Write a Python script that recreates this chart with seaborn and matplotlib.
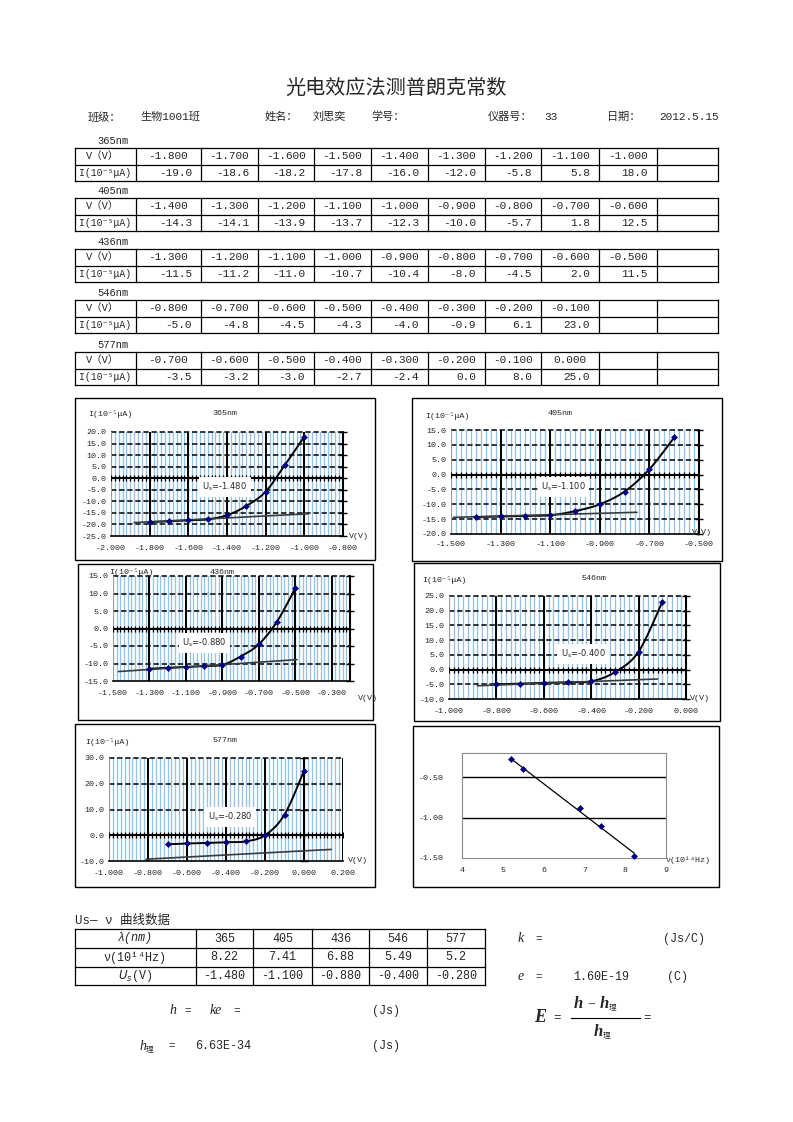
import numpy as np
import matplotlib
matplotlib.use('Agg')
import matplotlib.pyplot as plt
import seaborn as sns
from matplotlib.patches import Rectangle

sns.set_theme(style='white')
FONT = ['Liberation Mono', 'Noto Sans CJK SC', 'DejaVu Sans']
plt.rcParams['font.family'] = FONT
plt.rcParams['mathtext.fontset'] = 'dejavusans'

# ---------------- data ----------------
V365 = [-1.8, -1.7, -1.6, -1.5, -1.4, -1.3, -1.2, -1.1, -1.0]
I365 = [-19.0, -18.6, -18.2, -17.8, -16.0, -12.0, -5.8, 5.8, 18.0]
V405 = [-1.4, -1.3, -1.2, -1.1, -1.0, -0.9, -0.8, -0.7, -0.6]
I405 = [-14.3, -14.1, -13.9, -13.7, -12.3, -10.0, -5.7, 1.8, 12.5]
V436 = [-1.3, -1.2, -1.1, -1.0, -0.9, -0.8, -0.7, -0.6, -0.5]
I436 = [-11.5, -11.2, -11.0, -10.7, -10.4, -8.0, -4.5, 2.0, 11.5]
V546 = [-0.8, -0.7, -0.6, -0.5, -0.4, -0.3, -0.2, -0.1]
I546 = [-5.0, -4.8, -4.5, -4.3, -4.0, -0.9, 6.1, 23.0]
V577 = [-0.7, -0.6, -0.5, -0.4, -0.3, -0.2, -0.1, 0.0]
I577 = [-3.5, -3.2, -3.0, -2.7, -2.4, 0.0, 8.0, 25.0]

# tangent (baseline) lines
TAN365_V, TAN365_I = [-1.88, -0.98], [-19.2, -15.4]
TAN405_V, TAN405_I = [-1.49, -0.75], [-14.4, -12.7]
TAN436_V, TAN436_I = [-1.47, -0.49], [-12.3, -8.9]
TAN546_V, TAN546_I = [-0.88, -0.12], [-5.5, -3.2]
TAN577_V, TAN577_I = [-0.81, 0.14], [-9.3, -5.5]

WAVELENGTHS = [365, 405, 436, 546, 577]
NU = [8.22, 7.41, 6.88, 5.49, 5.2]
US = [-1.480, -1.100, -0.880, -0.400, -0.280]

# ---------------- figure ----------------
W, H = 793, 1122
fig = plt.figure(figsize=(W / 100, H / 100), dpi=100)
fig.patch.set_facecolor('white')
bg = fig.add_axes([0, 0, 1, 1])
bg.set_xlim(0, W)
bg.set_ylim(H, 0)
bg.axis('off')

NAVY = '#000080'
BLUE = '#96c2e8'


def T(x, y, s, size=8, ha='left', va='center', **kw):
    fig.text(x / W, 1 - y / H, s, fontsize=size, ha=ha, va=va, **kw)


def L(x0, y0, x1, y1, lw=0.9, color='black'):
    bg.plot([x0, x1], [y0, y1], color=color, lw=lw, solid_capstyle='projecting')


def px_axes(l, t, r, b):
    return fig.add_axes([l / W, 1 - b / H, (r - l) / W, (b - t) / H])


def box(l, t, r, b):
    bg.add_patch(Rectangle((l, t), r - l, b - t, fill=False, ec='black', lw=1.0))


def smooth(x, y, xlim, ylim, wpx, hpx, n=24):
    x = np.asarray(x, float)
    y = np.asarray(y, float)
    P = np.column_stack([(x - xlim[0]) / (xlim[1] - xlim[0]) * wpx,
                         (y - ylim[0]) / (ylim[1] - ylim[0]) * hpx])
    Pe = np.vstack([P[0], P, P[-1]])
    t = np.linspace(0, 1, n)[:, None]
    segs = []
    for k in range(len(P) - 1):
        p0, p1, p2, p3 = Pe[k], Pe[k + 1], Pe[k + 2], Pe[k + 3]
        c1 = p1 + (p2 - p0) / 6
        c2 = p2 - (p3 - p1) / 6
        B = (1 - t) ** 3 * p1 + 3 * (1 - t) ** 2 * t * c1 + 3 * (1 - t) * t ** 2 * c2 + t ** 3 * p2
        segs.append(B if k == 0 else B[1:])
    B = np.vstack(segs)
    return (B[:, 0] / wpx * (xlim[1] - xlim[0]) + xlim[0],
            B[:, 1] / hpx * (ylim[1] - ylim[0]) + ylim[0])


# ---------------- title & header ----------------
T(396, 88, '光电效应法测普朗克常数', size=14.5, ha='center')
hy = 117
for x, s in [(88, '班级：'), (140, '生物1001班'), (265, '姓名：'), (313, '刘思奕'),
             (371, '学号：'), (488, '仪器号：'), (544, '33'), (607, '日期：'), (659, '2012.5.15')]:
    T(x, hy, s, size=8)

# ---------------- data tables ----------------
EDGES = [75, 136, 201, 258, 314, 371, 428, 485, 541, 599, 657, 718]
tables = [('365nm', V365, I365, 148), ('405nm', V405, I405, 198),
          ('436nm', V436, I436, 249), ('546nm', V546, I546, 300),
          ('577nm', V577, I577, 352)]
RH = 16.5
for name, v, cur, top in tables:
    T(97, top - 7, name, size=7.5)
    for y in (top, top + RH, top + 2 * RH):
        L(EDGES[0], y, EDGES[-1], y)
    for x in EDGES:
        L(x, top, x, top + 2 * RH)
    T(103, top + RH / 2, 'V（V）', size=7.5, ha='center')
    T(105, top + RH * 1.5, 'I(10⁻⁵μA)', size=7, ha='center')
    for k, (vv, ii) in enumerate(zip(v, cur)):
        cl, cr = EDGES[k + 1], EDGES[k + 2]
        T((cl + cr) / 2, top + RH / 2, f'{vv:.3f}', size=8, ha='center')
        T(cr - 9, top + RH * 1.5, f'{ii:.1f}', size=8, ha='right')


# ---------------- I-V charts ----------------
def fmt3(t):
    s = f'{t:.3f}'
    return '0.000' if s == '-0.000' else s


def iv_chart(c):
    l, t, r, b = c['plot']
    ax = px_axes(l, t, r, b)
    ax.set_facecolor('white')
    x0, x1 = c['xlim']
    y0, y1 = c['ylim']
    minor = np.round(np.arange(x0, x1 + 1e-9, 0.02), 3)
    major = np.round(np.arange(x0, c['xlab_max'] + 1e-9, 0.2), 3)
    yt = np.arange(y0, y1 + 1e-9, c['ystep'])
    axis_x = 0.0 if x0 <= 0 <= x1 else x1
    for m in minor:
        ax.axvline(m, color=BLUE, lw=0.95, zorder=1)
    for m in major[1:]:
        if abs(m - axis_x) > 1e-6:
            ax.axvline(m, color='black', lw=1.4, zorder=2)
    for yy in yt[1:]:
        if abs(yy) > 1e-9:
            ax.axhline(yy, color='black', lw=1.1, ls=(0, (3.5, 1.8)), zorder=2, clip_on=False)
    ax.axhline(0, color='black', lw=1.5, zorder=3)
    ax.plot(minor, np.zeros_like(minor), ls='none', marker='|', ms=4.5, mew=0.9,
            color='black', zorder=3)
    ax.axvline(axis_x, color='black', lw=1.5, zorder=3, clip_on=False)
    ax.plot(np.full(len(yt), axis_x), yt, ls='none', marker='_', ms=6, mew=1.0,
            color='black', zorder=3, clip_on=False)

    sx, sy = smooth(c['v'], c['i'], c['xlim'], c['ylim'], r - l, b - t)
    sns.lineplot(x=sx, y=sy, sort=False, estimator=None, color='black', lw=1.4, ax=ax, zorder=4)
    sns.lineplot(x=c['tv'], y=c['ti'], sort=False, estimator=None, color='#3a3a3a', lw=1.2,
                 ax=ax, zorder=4)
    sns.scatterplot(x=c['v'], y=c['i'], marker='D', s=9, color=NAVY, edgecolor=NAVY,
                    linewidth=0.5, ax=ax, zorder=5)
    ax.text(c['ann'][0], c['ann'][1], r'U$_{\mathrm{s}}$=' + c['us'], fontsize=6,
            fontfamily='DejaVu Sans', ha='left', va='center', zorder=6,
            bbox=dict(fc='white', ec='none', pad=2.5))

    ax.set_xlim(x0, x1)
    ax.set_ylim(y0, y1)
    ax.set_xticks(major)
    ax.set_xticklabels([fmt3(m) for m in major])
    ax.set_yticks(yt)
    ax.set_yticklabels([f'{yy:.1f}' for yy in yt])
    ax.tick_params(axis='x', length=0, labelsize=6, pad=c['xpad'])
    ax.tick_params(axis='y', length=0, labelsize=6, pad=3)
    ax.set_xlabel('')
    ax.set_ylabel('')
    for sp in ('top', 'right'):
        ax.spines[sp].set_visible(False)
    ax.spines['left'].set_color('#9a9a9a')
    ax.spines['left'].set_linewidth(0.7)
    ax.spines['bottom'].set_color('black')
    ax.spines['bottom'].set_linewidth(1.2)

    box(*c['box'])
    T(c['title'][0], c['title'][1], c['name'], size=6, ha='center')
    T(c['ylab'][0], c['ylab'][1], 'I(10⁻⁵μA)', size=6)
    T(c['vlab'][0], c['vlab'][1], 'V(V)', size=6)


charts = [
    dict(name='365nm', v=V365, i=I365, tv=TAN365_V, ti=TAN365_I, us='-1.480',
         box=(75, 398, 375, 560), plot=(111, 432, 343, 536), xlim=(-2.0, -0.8), xlab_max=-0.8,
         ylim=(-25, 20), ystep=5, xpad=6.2, title=(225, 413), ylab=(88, 414),
         vlab=(349, 536), ann=(-1.528, -3.8)),
    dict(name='405nm', v=V405, i=I405, tv=TAN405_V, ti=TAN405_I, us='-1.100',
         box=(412, 398, 722, 561), plot=(451, 430, 699, 534), xlim=(-1.5, -0.5), xlab_max=-0.5,
         ylim=(-20, 15), ystep=5, xpad=5.2, title=(560, 413), ylab=(425, 416),
         vlab=(692, 532), ann=(-1.137, -4.2)),
    dict(name='436nm', v=V436, i=I436, tv=TAN436_V, ti=TAN436_I, us='-0.880',
         box=(78, 564, 373, 720), plot=(113, 576, 350, 681), xlim=(-1.5, -0.2), xlab_max=-0.3,
         ylim=(-15, 15), ystep=5, xpad=6.8, title=(222, 573), ylab=(109, 572),
         vlab=(358, 699), ann=(-1.12, -4.1)),
    dict(name='546nm', v=V546, i=I546, tv=TAN546_V, ti=TAN546_I, us='-0.400',
         box=(414, 563, 720, 721), plot=(449, 596, 686, 699), xlim=(-1.0, 0.0), xlab_max=0.0,
         ylim=(-10, 25), ystep=5, xpad=6.8, title=(594, 579), ylab=(422, 580),
         vlab=(690, 699), ann=(-0.528, 5.3)),
    dict(name='577nm', v=V577, i=I577, tv=TAN577_V, ti=TAN577_I, us='-0.280',
         box=(75, 724, 375, 887), plot=(109, 758, 343, 861), xlim=(-1.0, 0.2), xlab_max=0.2,
         ylim=(-10, 30), ystep=10, xpad=6.8, title=(225, 741), ylab=(85, 742),
         vlab=(348, 861), ann=(-0.493, 7.1)),
]
for c in charts:
    iv_chart(c)

# ---------------- Us - nu chart ----------------
ax = px_axes(462, 753, 666, 858)
ax.set_facecolor('white')
for yy in (-1.0, -0.5):
    ax.axhline(yy, color='black', lw=1.0, zorder=1)
sns.regplot(x=NU, y=US, ci=None, scatter=False, truncate=True,
            line_kws=dict(color='black', lw=0.9, zorder=3), ax=ax)
sns.scatterplot(x=NU, y=US, marker='D', s=9, color=NAVY, edgecolor=NAVY, linewidth=0.5,
                ax=ax, zorder=5, clip_on=False)
ax.set_xlim(4, 9)
ax.set_ylim(-1.5, -0.2)
ax.set_xticks(range(4, 10))
ax.set_xticklabels([str(k) for k in range(4, 10)])
ax.set_yticks([-1.5, -1.0, -0.5])
ax.set_yticklabels([f'{yy:.2f}' for yy in (-1.5, -1.0, -0.5)])
ax.tick_params(axis='x', length=0, labelsize=6, pad=6.5)
ax.tick_params(axis='y', length=0, labelsize=6, pad=13)
ax.set_xlabel('')
ax.set_ylabel('')
for sp in ax.spines.values():
    sp.set_color('#8c8c8c')
    sp.set_linewidth(0.8)
box(413, 726, 719, 887)
T(666, 860, 'ν(10¹⁴Hz)', size=6)

# ---------------- Us - nu table ----------------
T(75, 921, 'Us— ν 曲线数据', size=9)
BE = [75, 196, 253, 312, 369, 427, 485]
BR = [929, 948, 967, 985]
for y in BR:
    L(BE[0], y, BE[-1], y)
for x in BE:
    L(x, BR[0], x, BR[-1])
rows_c = [(BR[0] + BR[1]) / 2, (BR[1] + BR[2]) / 2, (BR[2] + BR[3]) / 2]
T(135, rows_c[0], 'λ(nm)', size=8.5, ha='center', style='italic')
T(135, rows_c[1], 'ν(10¹⁴Hz)', size=8.5, ha='center')
T(135, rows_c[2], r'$U_s$(V)', size=8.5, ha='center')
for k in range(5):
    cx = (BE[k + 1] + BE[k + 2]) / 2
    T(cx, rows_c[0], str(WAVELENGTHS[k]), size=8.5, ha='center')
    T(cx, rows_c[1], f'{NU[k]:g}', size=8.5, ha='center')
    T(cx, rows_c[2], f'{US[k]:.3f}', size=8.5, ha='center')

# ---------------- formulas ----------------
SERIF = ['Liberation Serif', 'Noto Sans CJK SC']
T(518, 939, 'k', size=10, style='italic', family=SERIF)
T(535, 939, '=', size=8)
T(663, 939, '(Js/C)', size=8.5)
T(518, 977, 'e', size=10, style='italic', family=SERIF)
T(535, 977, '=', size=8)
T(573, 977, '1.60E-19', size=8.5)
T(667, 977, '(C)', size=8.5)

T(170, 1011, 'h', size=10, style='italic', family=SERIF)
T(184, 1011, '=', size=8)
T(210, 1011, 'ke', size=10, style='italic', family=SERIF)
T(233, 1011, '=', size=8)
T(372, 1011, '(Js)', size=8.5)

T(139, 1046, 'h', size=10, style='italic', family=SERIF)
T(146, 1050, '理', size=5.5)
T(168, 1046, '=', size=8)
T(195, 1046, '6.63E-34', size=8.5)
T(372, 1046, '(Js)', size=8.5)

T(534, 1018, 'E', size=13, style='italic', weight='bold', family=SERIF)
T(553, 1018, '=', size=9)
T(574, 1004, 'h', size=12, style='italic', weight='bold', family=SERIF)
T(587, 1004, '−', size=10, family=SERIF)
T(600, 1004, 'h', size=12, style='italic', weight='bold', family=SERIF)
T(609, 1008, '理', size=5.5)
L(571, 1018, 640, 1018, lw=0.8)
T(594, 1032, 'h', size=12, style='italic', weight='bold', family=SERIF)
T(603, 1036, '理', size=5.5)
T(643, 1018, '=', size=9)

fig.savefig('out.png', dpi=100, facecolor='white')
